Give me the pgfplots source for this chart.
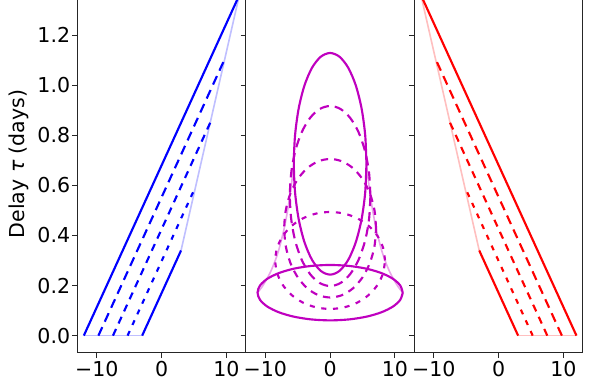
\documentclass[border=0pt]{standalone}
\usepackage{fontspec}
\setmainfont{DejaVu Sans}
\usepackage{pgfplots}
\pgfplotsset{compat=1.18}

\definecolor{mplm}{rgb}{0.75,0,0.75}
\definecolor{spine}{gray}{0.15}

\pgfplotsset{
  panel/.style={
    scale only axis, width=126.4pt, height=264.5pt,
    xmin=-13, xmax=13, ymin=-0.068, ymax=1.34,
    axis x line*=bottom, axis y line*=box,
    axis line style={-, draw=spine, line width=0.8pt},
    xtick={-10,0,10}, xticklabels={−10,0,10},
    ytick={0,0.2,0.4,0.6,0.8,1.0,1.2},
    ytick pos=left,
    tick align=outside, major tick length=4pt,
    tick style={draw=spine, line width=0.8pt},
    ticklabel style={font=\fontsize{15.4}{18}\selectfont},
    xticklabel style={inner sep=0pt, yshift=-2.2pt},
    yticklabel style={inner sep=0pt, xshift=-1.2pt},
    every axis plot/.append style={no markers},
  },
  full/.style={line width=1.6pt},
  faint/.style={line width=1.2pt},
  longd/.style={line width=1.6pt, dash pattern=on 7pt off 4.5pt},
  midd/.style={line width=1.6pt, dash pattern=on 5.5pt off 4.5pt},
  shortd/.style={line width=1.6pt, dash pattern=on 3.8pt off 5pt},
}

\begin{document}
\begin{tikzpicture}
\path[use as bounding box] (-58pt,-21.2pt) rectangle (390.5pt,264.5pt);

% outflow
\begin{axis}[panel, at={(0pt,0pt)},
  yticklabels={0.0,0.2,0.4,0.6,0.8,1.0,1.2},
  ylabel={Delay {\itshape τ} (days)},
  ylabel style={font=\fontsize{15.4}{18}\selectfont, at={(axis description cs:-0.3457,0.535)}, anchor=center}]
\addplot[blue!25, faint] coordinates {(-12,0) (-3,0)};
\addplot[blue!25, faint] coordinates {(3,0.34) (12,1.36)};
\addplot[blue, full] coordinates {(-12,0) (12,1.36)};
\addplot[blue, longd] coordinates {(-9.75,0) (9.75,1.105)};
\addplot[blue, midd] coordinates {(-7.5,0) (7.5,0.85)};
\addplot[blue, shortd] coordinates {(-5.25,0) (5.25,0.595)};
\addplot[blue, full] coordinates {(-3,0) (3,0.34)};
\end{axis}

% rotating rings
\begin{axis}[panel, at={(126.4pt,0pt)}, yticklabels={}]
\addplot[mplm!35, faint, smooth] coordinates {(11.2,0.1715) (10.371,0.2) (9.277,0.25) (8.466,0.3001) (7.84,0.35) (7.084,0.4288) (6.56,0.5) (6.213,0.5574) (5.988,0.6) (5.6,0.686)};
\addplot[mplm!35, faint, smooth] coordinates {(-11.2,0.1715) (-10.371,0.2) (-9.277,0.25) (-8.466,0.3001) (-7.84,0.35) (-7.084,0.4288) (-6.56,0.5) (-6.213,0.5574) (-5.988,0.6) (-5.6,0.686)};
\addplot[mplm, full, smooth] coordinates {
 (11.2,0.1715) (10.818,0.2001) (9.699,0.2268) (7.920,0.2497) (5.6,0.2673) (2.899,0.2783) (0,0.2821)
 (-2.899,0.2783) (-5.6,0.2673) (-7.920,0.2497) (-9.699,0.2268) (-10.818,0.2001) (-11.2,0.1715)
 (-10.818,0.1429) (-9.699,0.1162) (-7.920,0.0933) (-5.6,0.0757) (-2.899,0.0647) (0,0.0609)
 (2.899,0.0647) (5.6,0.0757) (7.920,0.0933) (9.699,0.1162) (10.818,0.1429) (11.2,0.1715)};
\addplot[mplm, shortd, smooth] coordinates {
 (8.466,0.3001) (8.177,0.3502) (7.332,0.3969) (5.986,0.4370) (4.233,0.4678) (2.191,0.4871) (0,0.4937)
 (-2.191,0.4871) (-4.233,0.4678) (-5.986,0.4370) (-7.332,0.3969) (-8.177,0.3502) (-8.466,0.3001)
 (-8.177,0.2500) (-7.332,0.2033) (-5.986,0.1632) (-4.233,0.1324) (-2.191,0.1131) (0,0.1065)
 (2.191,0.1131) (4.233,0.1324) (5.986,0.1632) (7.332,0.2033) (8.177,0.2500) (8.466,0.3001)};
\addplot[mplm, midd, smooth] coordinates {
 (7.084,0.4288) (6.843,0.5004) (6.135,0.5671) (5.009,0.6243) (3.542,0.6683) (1.833,0.6959) (0,0.7053)
 (-1.833,0.6959) (-3.542,0.6683) (-5.009,0.6243) (-6.135,0.5671) (-6.843,0.5004) (-7.084,0.4288)
 (-6.843,0.3572) (-6.135,0.2905) (-5.009,0.2333) (-3.542,0.1893) (-1.833,0.1617) (0,0.1523)
 (1.833,0.1617) (3.542,0.1893) (5.009,0.2333) (6.135,0.2905) (6.843,0.3572) (7.084,0.4288)};
\addplot[mplm, longd, smooth] coordinates {
 (6.213,0.5574) (6.001,0.6504) (5.381,0.7372) (4.393,0.8116) (3.107,0.8687) (1.608,0.9047) (0,0.9169)
 (-1.608,0.9047) (-3.107,0.8687) (-4.393,0.8116) (-5.381,0.7372) (-6.001,0.6504) (-6.213,0.5574)
 (-6.001,0.4644) (-5.381,0.3776) (-4.393,0.3032) (-3.107,0.2461) (-1.608,0.2101) (0,0.1979)
 (1.608,0.2101) (3.107,0.2461) (4.393,0.3032) (5.381,0.3776) (6.001,0.4644) (6.213,0.5574)};
\addplot[mplm, full, smooth] coordinates {
 (5.6,0.686) (5.409,0.8005) (4.850,0.9073) (3.960,0.9989) (2.8,1.0692) (1.449,1.1134) (0,1.1285)
 (-1.449,1.1134) (-2.8,1.0692) (-3.960,0.9989) (-4.850,0.9073) (-5.409,0.8005) (-5.6,0.686)
 (-5.409,0.5715) (-4.850,0.4647) (-3.960,0.3731) (-2.8,0.3028) (-1.449,0.2586) (0,0.2435)
 (1.449,0.2586) (2.8,0.3028) (3.960,0.3731) (4.850,0.4647) (5.409,0.5715) (5.6,0.686)};
\end{axis}

% inflow
\begin{axis}[panel, at={(252.8pt,0pt)}, yticklabels={}]
\addplot[red!25, faint] coordinates {(3,0) (12,0)};
\addplot[red!25, faint] coordinates {(-3,0.34) (-12,1.36)};
\addplot[red, full] coordinates {(12,0) (-12,1.36)};
\addplot[red, longd] coordinates {(9.75,0) (-9.75,1.105)};
\addplot[red, midd] coordinates {(7.5,0) (-7.5,0.85)};
\addplot[red, shortd] coordinates {(5.25,0) (-5.25,0.595)};
\addplot[red, full] coordinates {(3,0) (-3,0.34)};
\end{axis}
\end{tikzpicture}
\end{document}
